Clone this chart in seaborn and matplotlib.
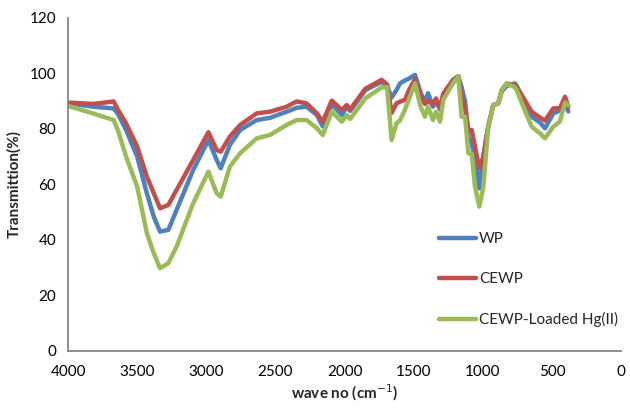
import numpy as np
import pandas as pd
import matplotlib
matplotlib.use("Agg")
import matplotlib.pyplot as plt
import seaborn as sns

# wave numbers (cm-1)
wave_no = [4000, 3820, 3670, 3640, 3580, 3540, 3500, 3430, 3380, 3335, 3275,
           3215, 3095, 2985, 2925, 2896, 2830, 2756, 2636, 2540, 2420, 2347,
           2275, 2200, 2158, 2093, 2020, 1985, 1960, 1850, 1732, 1693, 1660,
           1625, 1600, 1563, 1540, 1491, 1450, 1419, 1397, 1361, 1339, 1310,
           1286, 1216, 1178, 1154, 1129, 1105, 1081, 1057, 1026, 997, 961,
           925, 889, 864, 828, 768, 756, 683, 647, 587, 551, 491, 443, 406, 382]

wp = [89.3, 88, 87.4, 85.5, 79.6, 74.8, 70, 56.8, 48.4, 43, 43.6,
      50.8, 65.2, 76, 68.8, 65.8, 74.2, 79.6, 83.2, 84, 86.2, 87.6,
      88, 85, 80.9, 88.8, 85, 88, 86.5, 94, 97, 95.5, 91.3,
      94, 96.4, 97.5, 98, 99.5, 93, 89.7, 92.9, 88, 90, 87,
      92, 97.5, 99, 95, 90, 76.7, 75, 68.8, 58.6, 70, 81,
      88.6, 89.2, 93.5, 95.5, 96.4, 95.5, 88, 84.4, 82.3, 80.2, 85.6, 86.6, 89, 86.3]

cewp = [89.5, 89, 89.9, 87, 82, 77.8, 73.6, 62.8, 56.8, 51.4, 52.6,
        58, 68.8, 78.8, 72.4, 71.8, 77.2, 81.4, 85.6, 86.2, 88, 89.9,
        89.2, 85.6, 82.6, 90.2, 86.8, 88.6, 87, 94.5, 97.7, 96, 85.8,
        89.2, 89.8, 90.5, 93.4, 98, 92, 89, 90, 89, 91, 87.5,
        92.8, 97.7, 99, 91.6, 88, 79.6, 79.6, 73.6, 65.8, 70, 81,
        88.6, 89.2, 94, 96.4, 95.8, 95.2, 89.2, 86.2, 84.1, 83, 87.4, 87.5, 91.6, 88]

cewp_hg = [88.3, 85.6, 83.2, 79.6, 70, 64.6, 59.2, 42.4, 35.2, 29.8, 31.6,
           37.6, 53.2, 64.6, 56.8, 55.6, 66.4, 71.2, 76.6, 77.8, 81.4, 83.2,
           83.2, 80.2, 77.8, 86.2, 82.6, 85, 83.6, 91, 95, 95, 76,
           82, 83, 87, 90, 96.4, 88, 84.4, 88, 83.2, 86.2, 82.6,
           90.5, 96.4, 99, 84.4, 84.4, 71.2, 71, 59.2, 52, 59, 80.8,
           88.6, 89.2, 94, 96.4, 95, 94, 85, 80.8, 78.4, 76.6, 80.8, 82.7, 89.5, 88.5]

labels = ["WP", "CEWP", "CEWP-Loaded Hg(II)"]
colors = ["#4F81BD", "#C0504D", "#9BBB59"]

df = pd.concat([
    pd.DataFrame({"wave": wave_no, "T": vals, "sample": lab})
    for lab, vals in zip(labels, [wp, cewp, cewp_hg])
])

sns.set_style("white")
plt.rcParams['font.family'] = ['Lato', 'DejaVu Sans']

fig = plt.figure(figsize=(6.3, 4.08), dpi=100)
ax = fig.add_axes([0.108, 0.14, 0.878, 0.816])

sns.lineplot(data=df, x="wave", y="T", hue="sample", palette=colors,
             sort=False, estimator=None, linewidth=3.2, ax=ax)

ax.set_xlim(4000, 0)
ax.set_ylim(0, 120)
ax.set_xticks(np.arange(0, 4001, 500))
ax.set_yticks(np.arange(0, 121, 20))

for s in ["top", "right"]:
    ax.spines[s].set_visible(False)
for s in ["left", "bottom"]:
    ax.spines[s].set_color("#868686")
    ax.spines[s].set_linewidth(1.3)
ax.tick_params(axis="both", direction="out", length=5, width=1.2,
               color="#868686", labelsize=11, labelcolor="black")
ax.tick_params(axis="x", pad=5)

ax.set_xlabel("wave no (cm$^{-1}$)", fontsize=11, fontweight="bold", labelpad=3)
ax.set_ylabel("Transmittion(%)", fontsize=11, fontweight="bold", labelpad=6)

leg = ax.legend(loc="upper left", bbox_to_anchor=(0.66, 0.375), frameon=False,
                fontsize=11, labelspacing=1.7, handlelength=2.4,
                handletextpad=0.2, borderaxespad=0)

fig.savefig("out.png", dpi=100)
